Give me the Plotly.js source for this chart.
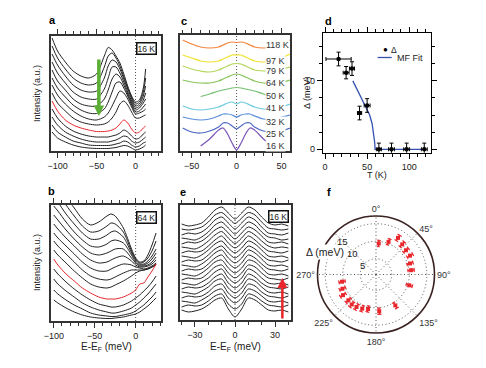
<!DOCTYPE html>
<html>
<head>
<meta charset="utf-8">
<script src="https://cdn.plot.ly/plotly-3.0.1.min.js"></script>
<style>html,body{margin:0;padding:0;background:#fff}#myDiv{width:486px;height:368px}</style>
</head>
<body>
<div id="myDiv"></div>
<script>
// a: EDCs at 16 K, stacked (a.u.), red = k_F cut
var aE = [-107,-100,-90,-80,-70,-60,-50,-40,-35,-30,-25,-20,-15,-10,-5,0,5,10,13];
var aCurves = [
    [113,100,89,80,75,73,77,95,103.5,101,95,88,77,65,55,49,51,63,82],
    [105,93,82,73,68,66,68,84,95,98,93,85,74,63,54,47,49,59,73],
    [97,86,75,66,61,59,60,73,85,91,89,82,72,62,52,45,47,55,65],
    [89,78,68,59,54,52,52,62,73,84,84,78,69,59,50,43,45,51,58],
    [81,70,61,52,47,45,45,52,61,72,77,74,66,57,48,41,43,48,52],
    [73,63,54,46,41,38,37.5,42,49,59,68,69,63,55,46,39,40,44,47],
    [66,56,47,40,35,32,31,34,38,45,53,60,58,52,44,37,38,40,42],
    [58,48,40,33,29,27,26,27,29,33,39,47,50,46,39,33,33,35,36],
    [50,40,31,26,23,21,19.5,19.5,20,21,23,27,31,28,22,18,19,23,25],
    [42,33,25,20,17,15,14,14,14,15,16,18,21,19,15,12,13,17,19],
    [34,26,19,15,12,10,9,9,9,10,11,13,15,14,10,8,9,12,14],
    [26,19,14,10,8,6,5.5,5.5,5.5,6,7,8,10,9,6,4,5,8,9],
    [19,13,9,6,4,3,2.5,2.5,2.5,3,3.5,4.5,5.5,5,3,1,2,4,6]
];
var aRed = 8;

// b: EDCs at 64 K
var bE = [-100,-95,-85,-75,-65,-55,-45,-35,-30,-25,-15,-5,0,5,10,15,20,25];
var bCurves = [
    [145,138,124,113,102,96,99,105,107,105,93,72,63,59,60,66,76,88],
    [135,129,116,105,95,89,90,95,98,97,89,70,62,58,59,63,70,80],
    [125,119,107,97,88,82,82,86,89,90,84,68,61,57,57,60,65,72],
    [115,110,99,89,81,75,74,77,80,81,78,66,59,56,56,58,62,68],
    [106,101,91,82,74,68,66,68,70,72,72,63,58,55,55,56,59,64],
    [97,92,83,75,67,61,58,59,61,63,65,60,56,54,54,55,57,61],
    [88,83,75,67,59,53,50,50,52,54,57,56,54,53,52,53,55,58],
    [80,75,67,59,51,45,42,41,42,44,48,51,51,51,51,52,54,56],
    [71,66,58,50,43,37,34,33,34,36,40,45,48,50,51,52,54,57],
    [62,56,47,40,33,28,24,22,22,22,24,28,31,37,38,44,50,57],
    [52,47,39,32,26,21,17,15,14,14,16,20,23,26,30,34,39,45],
    [42,37,30,24,18,14,11,9,8,8,10,13,16,19,23,27,32,37],
    [31,27,21,16,12,8,6,5,4.5,4.5,6,8,10,13,16,20,24,29],
    [21,18,13,9,6,4,3,2.5,2.5,3,4,6,7,9,12,15,19,23]
];
var bRed = 9;

// c: symmetrized EDCs at k_F vs temperature
var cE = [-60,-50,-40,-30,-20,-15,-10,-5,0,5,10,15,20,30,40,50,60];
var cTemps = ['118 K','97 K','79 K','64 K','50 K','41 K','32 K','25 K','16 K'];
var cColors = ['#f4853a','#f0e22e','#b3d65a','#86c45a','#74bf6e','#6ccbdf','#5b8ed8','#4b66c4','#7a55b8'];
var cCurves = [
    [111,107,104,103,104,106,108,109,108.5,109,108,106,104,103,104,107,111],
    [96,93,90,89,90,92,94,96,96,96,94,92,90,89,90,93,97],
    [85,82,80,79,81,83,85,87,87.5,87,85,83,81,80,80,82,84],
    [71,69,68,68,70,72,74,76,77,76,74,72,70,68,68,69,71],
    [null,null,54.5,57,60,61,62,63,63.5,63,62,61,60,57,54.5,null,null],
    [45,42,41,42,44,46,48,49,47,49,48,46,44,42,42,44,47],
    [34,32,31,32,35,37,37,36,34,36,37,37,35,32,32,34,36],
    [23,19,18,20,24,28,28,25,22,25,28,28,24,20,19,20,23],
    [null,null,5,12,21,23,17,8,1,8,17,23,21,12,5,null,null]
];

// d: gap vs temperature
var dT = [16, 25, 32, 41, 50, 64, 79, 97, 118];
var dGap = [13.2, 11.2, 11.8, 5.3, 6.4, 0, 0, 0, 0];
var dTErr = [15, 3.5, 3, 2.5, 3.5, 3, 3.5, 3.5, 3.5];
var dGapErr = [1.0, 0.9, 1.0, 1.0, 1.0, 0.9, 0.9, 0.9, 0.9];
var fitT = [33, 37, 41, 45, 49, 53, 56, 58, 59, 59.5, 120];
var fitGap = [10, 9.0, 8.0, 7.1, 6.2, 5.0, 3.7, 2.3, 1.0, 0, 0];

// e: symmetrized EDCs at 16 K along the Fermi surface
var eE = [-40,-35,-30,-25,-20,-15,-10,-5,0,5,10,15,20,25,30,35,40];
var eCurves = [
    [96,94,95,97,103,110,113,107,101,107,113,110,103,97,95,96,94],
    [91,90,91,93,98,105,107.5,102,96.5,102,107.5,105,98,92,91,90,91],
    [85,87,86,88,93,100,103,97,91,97,103,100,93,87,86,85,87],
    [82,81,80,83,88,95,98,92,86,92,98,95,88,83,82,80,81],
    [76,78,77,79,84,90,93,87,81,87,93,90,84,78,77,78,76],
    [73,72,71,74,79,85,88.5,82,76.5,82,88.5,85,79,74,72,73,72],
    [67,69,68,69,74,80,84,77,72,77,84,80,74,69,68,67,69],
    [64,63,62,65,70,76,79,72,67,72,79,76,70,64,63,64,62],
    [58,60,59,60,65,71,74,67,62,67,74,71,65,60,59,58,60],
    [55,54,53,56,61,67,70,62,57,62,70,67,61,55,54,55,53],
    [49,51,50,51,56,62,65,57,52,57,65,62,56,51,50,49,51],
    [46,45,44,47,52,58,60,52,47,52,60,58,52,46,45,46,44],
    [40,42,41,42,47,53,55,47,42,47,55,53,47,42,41,40,42],
    [37,36,35,38,42,48,51,42,37,42,51,48,42,37,36,37,35],
    [31,33,32,33,37,43,46,37,32,37,46,43,37,33,32,31,33],
    [28,27,26,29,33,39,41,32,27,32,41,39,33,28,27,28,26],
    [22,24,23,24,28,34,36,27,22,27,36,34,28,24,23,22,24],
    [19,18,17,20,24,29,31,22,17,22,31,29,24,19,18,19,17],
    [13,15,14,15,19,24,26,16,11,16,26,24,19,15,14,13,15],
    [10,8,9,11,15,20,22,11,3,11,22,20,15,10,9,10,8]
];

// f: gap around the Fermi surface
var fAngle = [5, 21, 31, 41, 51, 61, 72, 83, 108, 148, 175, 193, 202, 211, 219, 227, 238, 247, 258];
var fGap = [9.4, 10.5, 12.7, 11.9, 11.5, 11.6, 10.7, 10.6, 10.5, 10.9, 11.0, 10.6, 11.0, 11.3, 11.5, 11.3, 11.6, 10.9, 10.4];
var fGapErr = [0.9, 0.9, 0.9, 0.9, 0.9, 0.9, 0.9, 0.9, 0.9, 0.9, 0.9, 0.9, 0.9, 0.9, 0.9, 0.9, 0.9, 0.9, 0.9];
var fRings = ['5', '10', '15'];

var W = 486, H = 368;
var ink = '#222', frame = '#333', red = '#e8262b';
function px(x) { return x / W; }
function py(y) { return 1 - y / H; }

var data = [];
function stack(curves, xs, xa, ya, colorOf, width) {
    curves.forEach(function (ys, i) {
        data.push({
            type: 'scatter', mode: 'lines', x: xs, y: ys, xaxis: xa, yaxis: ya,
            line: {color: colorOf(i), width: width, shape: 'spline', smoothing: 0.8},
            hoverinfo: 'skip'
        });
    });
}
stack(aCurves, aE, 'x', 'y', function (i) { return i === aRed ? red : ink; }, 1);
stack(bCurves, bE, 'x2', 'y2', function (i) { return i === bRed ? red : ink; }, 1);
stack(cCurves, cE, 'x3', 'y3', function (i) { return cColors[i]; }, 1.2);
stack(eCurves, eE, 'x5', 'y5', function () { return ink; }, 1);

data.push({
    type: 'scatter', mode: 'lines', x: fitT, y: fitGap, xaxis: 'x4', yaxis: 'y4',
    line: {color: '#3552b0', width: 1.3}
});
data.push({
    type: 'scatter', mode: 'markers', x: dT, y: dGap, xaxis: 'x4', yaxis: 'y4',
    marker: {color: '#000', size: 4.5},
    error_x: {type: 'data', array: dTErr, color: '#000', thickness: 1, width: 2},
    error_y: {type: 'data', array: dGapErr, color: '#000', thickness: 1, width: 2}
});

// radial error bars with caps for panel f
var cap = 3, barR = [], barT = [];
fAngle.forEach(function (t, i) {
    var lo = fGap[i] - fGapErr[i], hi = fGap[i] + fGapErr[i];
    barR.push(lo, hi, null, lo, lo, null, hi, hi, null);
    barT.push(t, t, null, t - cap, t + cap, null, t - cap, t + cap, null);
});
data.push({
    type: 'scatterpolar', mode: 'lines', r: barR, theta: barT,
    line: {color: red, width: 1.2}, hoverinfo: 'skip'
});
data.push({
    type: 'scatterpolar', mode: 'markers', r: fGap, theta: fAngle,
    marker: {color: red, size: 4, symbol: 'square'}
});

function energyAxis(x0, x1, anchor, range, major, labels) {
    return {
        domain: [px(x0), px(x1)], anchor: anchor, range: range,
        showline: true, linecolor: frame, linewidth: 2, mirror: 'allticks',
        ticks: 'outside', ticklen: 5, tickwidth: 1, tickcolor: frame,
        tick0: 0, dtick: major,
        minor: {dtick: 10, ticks: 'outside', ticklen: 3, tickwidth: 1, tickcolor: frame},
        showgrid: false, zeroline: false, showticklabels: labels,
        tickfont: {size: 9, color: ink}
    };
}
function intensityAxis(y0, y1, anchor, range) {
    return {
        domain: [py(y1), py(y0)], anchor: anchor, range: range,
        showline: true, linecolor: frame, linewidth: 2, mirror: true,
        ticks: '', showticklabels: false, showgrid: false, zeroline: false
    };
}
function zeroLine(xa) {
    return {type: 'line', xref: xa, yref: xa.replace('x', 'y') + ' domain', x0: 0, x1: 0, y0: 0, y1: 1,
        line: {color: '#555', width: 1, dash: '1px,2px'}, layer: 'below'};
}
function label(x, y, text, opts) {
    var a = {xref: 'paper', yref: 'paper', x: px(x), y: py(y), text: text, showarrow: false,
        xanchor: 'center', yanchor: 'middle', font: {size: 9, color: ink}};
    for (var k in opts) a[k] = opts[k];
    return a;
}
function tempBox(x, y, text) {
    return label(x, y, text, {bgcolor: '#fff', bordercolor: '#111', borderwidth: 1.5, borderpad: 0,
        font: {size: 8.5, color: ink}});
}

var bold = {size: 11, color: '#000'};
var annotations = [
    label(52, 20, '<b>a</b>', {font: bold}),
    label(51, 191, '<b>b</b>', {font: bold}),
    label(184, 21, '<b>c</b>', {font: bold}),
    label(328, 21, '<b>d</b>', {font: bold}),
    label(183, 192, '<b>e</b>', {font: bold}),
    label(329, 192, '<b>f</b>', {font: bold}),
    label(37, 94, 'Intensity (a.u.)', {textangle: -90}),
    label(37, 263, 'Intensity (a.u.)', {textangle: -90}),
    label(106, 347, 'E-E<sub>F</sub> (meV)', {font: {size: 10, color: ink}}),
    label(235, 347, 'E-E<sub>F</sub> (meV)', {font: {size: 10, color: ink}}),
    label(377, 174.5, 'T (K)'),
    label(307, 93, 'Δ (meV)', {textangle: -90}),
    tempBox(146, 49, '16 K'),
    tempBox(146, 217, '64 K'),
    tempBox(278, 216, '16 K'),
    label(385, 49.5, '●', {font: {size: 8, color: '#000'}}),
    label(388.5, 49.5, 'Δ', {xanchor: 'left', font: {size: 8.5, color: ink}}),
    label(395, 58, 'MF Fit', {xanchor: 'left', font: {size: 9, color: ink}}),
    label(325, 252, 'Δ (meV)', {bgcolor: '#fff', font: {size: 10.5, color: ink}}),
    // arrows
    {xref: 'x', yref: 'y', x: -47, y: 35, ax: 0, ay: -58, text: '', showarrow: true,
        arrowcolor: '#5cae34', arrowwidth: 3.5, arrowhead: 2, arrowsize: 0.6},
    {xref: 'x5', yref: 'y5', x: 35.5, y: 42, ax: 0, ay: 42, text: '', showarrow: true,
        arrowcolor: red, arrowwidth: 2.5, arrowhead: 2, arrowsize: 0.8}
];
var cLabelPx = [45, 61, 71, 83, 96, 108, 122, 134, 146];
cTemps.forEach(function (t, i) {
    annotations.push(label(265, cLabelPx[i], t, {xanchor: 'left', bgcolor: '#fff', borderpad: 0,
        font: {size: 9, color: '#333'}}));
});
// ring values of panel f, set along the upper-left diagonal
var ringPx = [[362, 265], [352, 253], [342, 241.5]];
fRings.forEach(function (t, i) {
    annotations.push(label(ringPx[i][0], ringPx[i][1], t, {font: {size: 9.5, color: ink}}));
});

var layout = {
    width: W, height: H,
    margin: {l: 0, r: 0, t: 0, b: 0},
    paper_bgcolor: '#fff', plot_bgcolor: '#fff',
    showlegend: false,
    font: {family: 'Liberation Sans, Arial, sans-serif', size: 9, color: ink},
    xaxis: energyAxis(50.5, 161, 'y', [-109, 32.7], 50, true),
    yaxis: intensityAxis(36, 151, 'x', [0, 115]),
    xaxis2: energyAxis(50.5, 161, 'y2', [-104, 31], 50, true),
    yaxis2: intensityAxis(205, 321, 'x2', [0, 116]),
    xaxis3: energyAxis(180, 290, 'y3', [-63, 59.5], 50, true),
    yaxis3: intensityAxis(35, 151, 'x3', [0, 116]),
    xaxis5: energyAxis(179.5, 290.5, 'y5', [-41.6, 41.6], 30, true),
    yaxis5: intensityAxis(205, 320, 'x5', [0, 115]),
    xaxis4: {
        domain: [px(323), px(431)], anchor: 'y4', range: [-2.5, 126],
        showline: true, linecolor: '#000', linewidth: 1.2, mirror: 'allticks',
        ticks: 'outside', ticklen: 5, tickcolor: '#000', dtick: 50, tick0: 0,
        minor: {dtick: 10, ticks: 'outside', ticklen: 3, tickcolor: '#000'},
        showgrid: false, zeroline: false, tickfont: {size: 9, color: ink}
    },
    yaxis4: {
        domain: [py(152.7), py(33)], anchor: 'x4', range: [-0.5, 17],
        showline: true, linecolor: '#000', linewidth: 1.2, mirror: 'allticks',
        ticks: 'outside', ticklen: 5, tickcolor: '#000', dtick: 10, tick0: 0,
        minor: {dtick: 2.5, ticks: 'outside', ticklen: 3, tickcolor: '#000'},
        showgrid: false, zeroline: false, tickfont: {size: 9, color: ink}
    },
    polar: {
        domain: {x: [px(317.5), px(434.5)], y: [py(333), py(216)]},
        bgcolor: '#fff',
        angularaxis: {
            rotation: 90, direction: 'clockwise',
            tickmode: 'array', tickvals: [0, 45, 90, 135, 180, 225, 270, 315],
            ticktext: ['0°', '45°', '90°', '135°', '180°', '225°', '270°', ''],
            ticks: '', showline: true, linecolor: '#3b2222', linewidth: 1.6,
            gridcolor: '#555', griddash: '1px,2.5px', gridwidth: 1,
            tickfont: {size: 9, color: '#333'}
        },
        radialaxis: {
            range: [0.5, 17.2], angle: 135, tickmode: 'array', tickvals: [5, 10, 15],
            showticklabels: false, ticks: '', showline: false,
            gridcolor: '#555', griddash: '1px,2.5px', gridwidth: 1
        }
    },
    shapes: [
        zeroLine('x'), zeroLine('x2'), zeroLine('x3'), zeroLine('x5'),
        {type: 'line', xref: 'paper', yref: 'paper', x0: px(377.7), x1: px(391.7), y0: py(57.5), y1: py(57.5),
            line: {color: '#3552b0', width: 1.3}}
    ],
    annotations: annotations
};

Plotly.newPlot('myDiv', data, layout, {displayModeBar: false, staticPlot: true});
</script>
</body>
</html>
